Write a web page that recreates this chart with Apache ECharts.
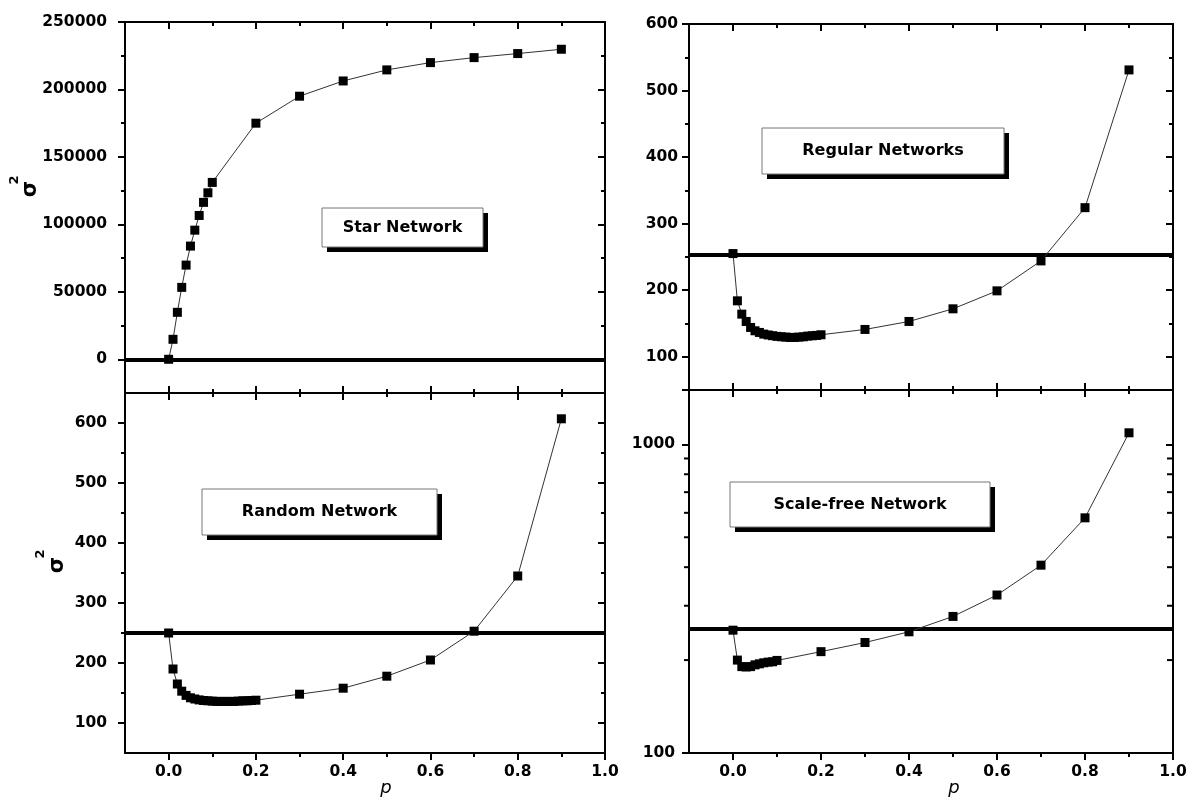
<!DOCTYPE html>
<html><head><meta charset="utf-8">
<script src="https://cdn.jsdelivr.net/npm/echarts@6.0.0/dist/echarts.min.js"></script>
<style>html,body{margin:0;padding:0;background:#fff}#c{width:1193px;height:798px}</style>
</head><body><div id="c"></div>
<script>
// ---- data ----
const pShort = [0, 0.01, 0.02, 0.03, 0.04, 0.05, 0.06, 0.07, 0.08, 0.09, 0.1, 0.2, 0.3, 0.4, 0.5, 0.6, 0.7, 0.8, 0.9];
const pLong = [0, 0.01, 0.02, 0.03, 0.04, 0.05, 0.06, 0.07, 0.08, 0.09, 0.1, 0.11, 0.12, 0.13, 0.14, 0.15, 0.16, 0.17, 0.18, 0.19, 0.2, 0.3, 0.4, 0.5, 0.6, 0.7, 0.8, 0.9];
const starVar = [0, 14800, 34800, 53300, 69800, 83900, 95700, 106600, 116300, 123400, 131100, 175000, 195000, 206300, 214500, 219900, 223600, 226600, 229800];
const regularVar = [255, 184, 164, 153, 144, 139, 136.5, 134, 132.7, 131.6, 130.6, 130, 129.5, 129, 129, 129.5, 130, 131, 131.5, 132, 133, 141, 153, 172, 199, 244, 324, 531];
const randomVar = [250, 190, 165, 153, 146, 142, 140, 138.5, 137.5, 137, 136.5, 136, 136, 136, 136, 136, 136.5, 137, 137, 137.5, 138, 148, 158, 178, 205, 253, 345, 607];
const scaleFreeVar = [250, 200, 190.5, 190, 190.5, 193, 194.5, 196, 197, 197.5, 199.5, 213, 228, 247, 277, 325, 406, 578, 1090];
const refLevels = [0, 253, 250, 252];
const panelNames = ['Star Network', 'Regular Networks', 'Random Network', 'Scale-free Network'];
const xRange = [-0.1, 1.0];
const xMajorTicks = [0, 0.2, 0.4, 0.6, 0.8, 1.0];
const xMinorTicks = [0.1, 0.3, 0.5, 0.7, 0.9];
const starYRange = [-25000, 250000];
const starYMajor = [0, 50000, 100000, 150000, 200000, 250000];
const starYMinor = [25000, 75000, 125000, 175000, 225000];
const regYRange = [50, 600];
const regYMajor = [100, 200, 300, 400, 500, 600];
const regYMinor = [150, 250, 350, 450, 550];
const randYRange = [50, 650];
const randYMajor = [100, 200, 300, 400, 500, 600];
const randYMinor = [150, 250, 350, 450, 550];
const sfYRange = [100, 1500];
const sfYMajor = [100, 1000];
const sfLogMinor = [200, 300, 400, 500, 600, 700, 800, 900];

// ---- layout ----
const grids = [
  {left: 125, top: 22, width: 480, height: 371},
  {left: 689, top: 24, width: 484, height: 366},
  {left: 125, top: 393, width: 480, height: 360},
  {left: 689, top: 390, width: 484, height: 363}
];
const FONT = 'DejaVu Sans';
const labelStyle = {color: '#000', fontFamily: FONT, fontWeight: 'bold', fontSize: 15.5};
const lineSt = {color: '#000', width: 2};

const xAxes = [], yAxes = [], series = [];
const panels = [
  {x: pShort, y: starVar, yr: starYRange, ym: starYMajor, yn: starYMinor, log: false, bottomLabels: false, ymargin: 18},
  {x: pLong, y: regularVar, yr: regYRange, ym: regYMajor, yn: regYMinor, log: false, bottomLabels: false, ymargin: 11},
  {x: pLong, y: randomVar, yr: randYRange, ym: randYMajor, yn: randYMinor, log: false, bottomLabels: true, ymargin: 18},
  {x: pShort, y: scaleFreeVar, yr: sfYRange, ym: sfYMajor, yn: null, log: true, bottomLabels: true, ymargin: 14}
];

panels.forEach((pn, i) => {
  const topPanel = i < 2;
  const xBase = {type: 'value', gridIndex: i, min: xRange[0], max: xRange[1], splitLine: {show: false}};
  const xi = xAxes.length;
  xAxes.push(Object.assign({}, xBase, {
    position: 'bottom',
    axisLine: {show: true, onZero: false, lineStyle: lineSt},
    axisTick: {show: true, customValues: xMajorTicks, inside: topPanel, length: 7, lineStyle: lineSt},
    axisLabel: {show: pn.bottomLabels, customValues: xMajorTicks, margin: 11, formatter: v => v.toFixed(1), ...labelStyle}
  }));
  xAxes.push(Object.assign({}, xBase, {
    position: 'bottom',
    axisLine: {show: false, onZero: false},
    axisTick: {show: true, customValues: xMinorTicks, inside: topPanel, length: 4, lineStyle: lineSt},
    axisLabel: {show: false}
  }));
  xAxes.push(Object.assign({}, xBase, {
    position: 'top',
    axisLine: {show: true, onZero: false, lineStyle: lineSt},
    axisTick: {show: true, customValues: xMajorTicks, inside: true, length: 7, lineStyle: lineSt},
    axisLabel: {show: false}
  }));
  xAxes.push(Object.assign({}, xBase, {
    position: 'top',
    axisLine: {show: false, onZero: false},
    axisTick: {show: true, customValues: xMinorTicks, inside: true, length: 4, lineStyle: lineSt},
    axisLabel: {show: false}
  }));

  const yi = yAxes.length;
  if (!pn.log) {
    const yBase = {type: 'value', gridIndex: i, min: pn.yr[0], max: pn.yr[1], splitLine: {show: false}};
    yAxes.push(Object.assign({}, yBase, {
      position: 'left',
      axisLine: {show: true, onZero: false, lineStyle: lineSt},
      axisTick: {show: true, customValues: pn.ym, inside: false, length: 7, lineStyle: lineSt},
      axisLabel: {show: true, customValues: pn.ym, margin: pn.ymargin, formatter: v => String(v), ...labelStyle}
    }));
    yAxes.push(Object.assign({}, yBase, {
      position: 'left',
      axisLine: {show: false, onZero: false},
      axisTick: {show: true, customValues: pn.yn, inside: false, length: 4, lineStyle: lineSt},
      axisLabel: {show: false}
    }));
    yAxes.push(Object.assign({}, yBase, {
      position: 'right',
      axisLine: {show: true, onZero: false, lineStyle: lineSt},
      axisTick: {show: true, customValues: pn.ym, inside: true, length: 7, lineStyle: lineSt},
      axisLabel: {show: false}
    }));
    yAxes.push(Object.assign({}, yBase, {
      position: 'right',
      axisLine: {show: false, onZero: false},
      axisTick: {show: true, customValues: pn.yn, inside: true, length: 4, lineStyle: lineSt},
      axisLabel: {show: false}
    }));
  } else {
    const yBase = {type: 'log', logBase: 10, gridIndex: i, min: pn.yr[0], max: pn.yr[1], splitLine: {show: false}};
    yAxes.push(Object.assign({}, yBase, {
      position: 'left',
      axisLine: {show: true, onZero: false, lineStyle: lineSt},
      axisTick: {show: true, inside: false, length: 7, lineStyle: lineSt},
      axisLabel: {show: true, margin: pn.ymargin, formatter: v => (pn.ym.indexOf(Math.round(v)) >= 0 ? String(Math.round(v)) : ''), ...labelStyle}
    }));
    yAxes.push(Object.assign({}, yBase, {
      position: 'right',
      axisLine: {show: true, onZero: false, lineStyle: lineSt},
      axisTick: {show: true, inside: true, length: 7, lineStyle: lineSt},
      axisLabel: {show: false}
    }));
    series.push({
      type: 'custom', xAxisIndex: xi, yAxisIndex: yi, silent: true, clip: false, z: 3,
      data: sfLogMinor.map(v => [xRange[0], v]),
      renderItem: function (params, api) {
        const v = api.value(1);
        const l = api.coord([xRange[0], v]);
        const r = api.coord([xRange[1], v]);
        return {type: 'group', children: [
          {type: 'line', shape: {x1: l[0] - 5, y1: l[1], x2: l[0], y2: l[1]}, style: {stroke: '#000', lineWidth: 2}},
          {type: 'line', shape: {x1: r[0] - 6, y1: r[1], x2: r[0], y2: r[1]}, style: {stroke: '#000', lineWidth: 2}}
        ]};
      }
    });
  }

  series.push({
    type: 'line', xAxisIndex: xi, yAxisIndex: yi, data: [], z: 1, silent: true,
    markLine: {silent: true, symbol: ['none', 'none'], z: 1, animation: false,
      label: {show: false}, emphasis: {disabled: true},
      lineStyle: {color: '#000', width: 4, type: 'solid'},
      data: [{yAxis: refLevels[i]}]}
  });
  series.push({
    type: 'line', xAxisIndex: xi, yAxisIndex: yi, z: 10,
    data: pn.x.map((p, k) => [p, pn.y[k]]),
    symbol: 'rect', symbolSize: 9, showSymbol: true,
    lineStyle: {color: '#333', width: 1},
    itemStyle: {color: '#000'}
  });
});

const boxes = [
  {x: 322, y: 208, w: 161, h: 39},
  {x: 762, y: 128, w: 242, h: 46},
  {x: 202, y: 489, w: 235, h: 46},
  {x: 730, y: 482, w: 260, h: 45}
];
const graphic = [];
boxes.forEach((b, i) => {
  graphic.push({type: 'rect', z: 50, shape: {x: b.x + 5, y: b.y + 5, width: b.w, height: b.h}, style: {fill: '#000'}});
  graphic.push({type: 'rect', z: 51, shape: {x: b.x, y: b.y, width: b.w, height: b.h}, style: {fill: '#fff', stroke: '#777', lineWidth: 1}});
  graphic.push({type: 'text', z: 52, x: b.x + b.w / 2, y: b.y + b.h / 2,
    style: {text: panelNames[i], fill: '#000', font: 'bold 16px "DejaVu Sans"', align: 'center', verticalAlign: 'middle', textAlign: 'center', textVerticalAlign: 'middle'}});
});
[[31, 189, 15, 180], [58, 565, 41, 554]].forEach(c => {
  graphic.push({type: 'text', z: 52, x: c[0], y: c[1], rotation: Math.PI / 2,
    style: {text: 'σ', fill: '#000', font: 'bold 21px "DejaVu Sans"', align: 'center', verticalAlign: 'middle', textAlign: 'center', textVerticalAlign: 'middle'}});
  graphic.push({type: 'text', z: 52, x: c[2], y: c[3], rotation: Math.PI / 2,
    style: {text: '2', fill: '#000', font: 'bold 13px "DejaVu Sans"', align: 'center', verticalAlign: 'middle', textAlign: 'center', textVerticalAlign: 'middle'}});
});
[386, 954].forEach(x => {
  graphic.push({type: 'text', z: 52, x: x, y: 788,
    style: {text: 'p', fill: '#000', font: 'italic 18px "DejaVu Sans"', align: 'center', verticalAlign: 'middle', textAlign: 'center', textVerticalAlign: 'middle'}});
});

const chart = echarts.init(document.getElementById('c'), null, {renderer: 'canvas'});
chart.setOption({
  animation: false,
  backgroundColor: '#fff',
  grid: grids.map(g => Object.assign({containLabel: false, outerBoundsMode: 'none'}, g)),
  xAxis: xAxes,
  yAxis: yAxes,
  series: series,
  graphic: graphic
});
</script>
</body></html>
